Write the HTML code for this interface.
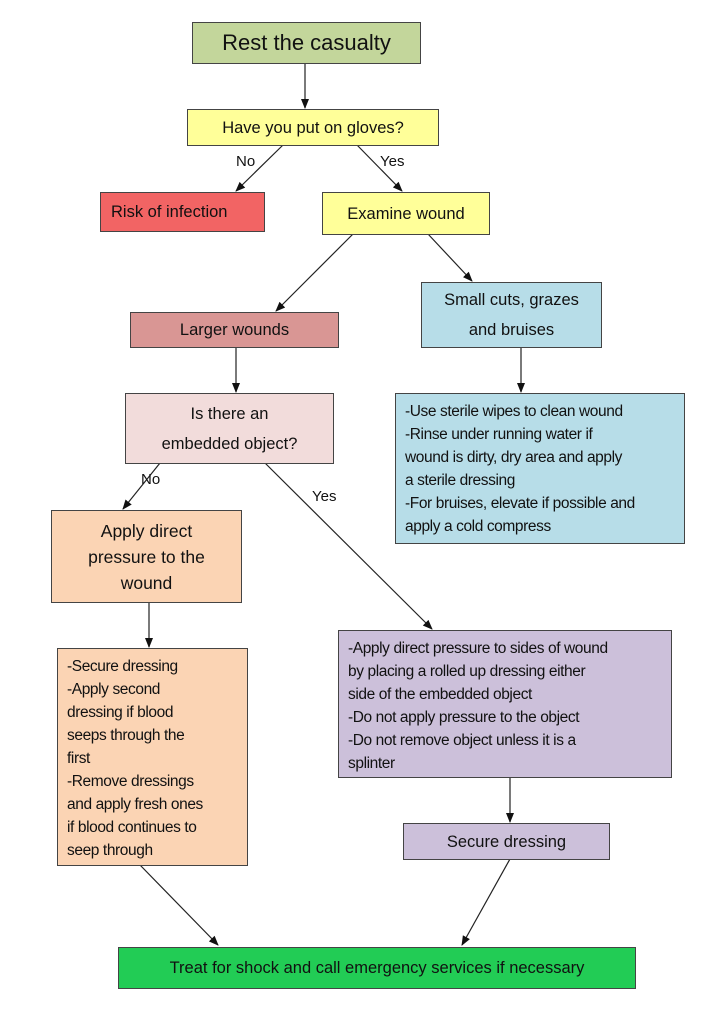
<!DOCTYPE html>
<html><head><meta charset="utf-8"><style>
body{margin:0;width:703px;height:1022px;background:#fff;position:relative;font-family:"Liberation Sans",sans-serif;color:#111;overflow:hidden}
.b{position:absolute;box-sizing:border-box;border:1px solid #444;display:flex;align-items:center;justify-content:center;text-align:center;font-size:16.5px;line-height:26px;white-space:nowrap}
.t{justify-content:flex-start;align-items:flex-start;text-align:left;font-size:15.5px;line-height:23px;padding:6px 0 0 9px;letter-spacing:-0.4px}
.l{position:absolute;font-size:15px}
svg{position:absolute;left:0;top:0}
</style></head><body>
<svg width="703" height="1022"><defs><marker id="a" markerWidth="10" markerHeight="10" refX="9" refY="5" orient="auto" markerUnits="userSpaceOnUse"><path d="M0,1 L10,5 L0,9z" fill="#111"/></marker></defs>
<g stroke="#222" stroke-width="1.2" marker-end="url(#a)">
<line x1="305" y1="63" x2="305" y2="108"/>
<line x1="283" y1="145" x2="236" y2="191"/>
<line x1="357" y1="145" x2="402" y2="191"/>
<line x1="353" y1="234" x2="276" y2="311"/>
<line x1="428" y1="234" x2="472" y2="281"/>
<line x1="236" y1="347" x2="236" y2="392"/>
<line x1="521" y1="347" x2="521" y2="392"/>
<line x1="160" y1="463" x2="123" y2="509"/>
<line x1="265" y1="463" x2="432" y2="629"/>
<line x1="149" y1="602" x2="149" y2="647"/>
<line x1="510" y1="777" x2="510" y2="822"/>
<line x1="140" y1="865" x2="218" y2="945"/>
<line x1="510" y1="859" x2="462" y2="945"/>
</g></svg>
<div class="b" style="left:192px;top:22px;width:229px;height:42px;background:#c3d69b;font-size:22px">Rest the casualty</div>
<div class="b" style="left:187px;top:109px;width:252px;height:37px;background:#ffff99">Have you put on gloves?</div>
<div class="l" style="left:236px;top:153px">No</div>
<div class="l" style="left:380px;top:153px">Yes</div>
<div class="b" style="left:100px;top:192px;width:165px;height:40px;background:#f26464;justify-content:flex-start;padding-left:10px">Risk of infection</div>
<div class="b" style="left:322px;top:192px;width:168px;height:43px;background:#ffff99">Examine wound</div>
<div class="b" style="left:130px;top:312px;width:209px;height:36px;background:#d99694">Larger wounds</div>
<div class="b" style="left:421px;top:282px;width:181px;height:66px;background:#b7dde8;line-height:30px">Small cuts, grazes<br>and bruises</div>
<div class="b" style="left:125px;top:393px;width:209px;height:71px;background:#f2dcdb;line-height:30px">Is there an<br>embedded object?</div>
<div class="b t" style="left:395px;top:393px;width:290px;height:151px;background:#b7dde8">-Use sterile wipes to clean wound<br>-Rinse under running water if<br>wound is dirty, dry area and apply<br>a sterile dressing<br>-For bruises, elevate if possible and<br>apply a cold compress</div>
<div class="l" style="left:141px;top:471px">No</div>
<div class="l" style="left:312px;top:488px">Yes</div>
<div class="b" style="left:51px;top:510px;width:191px;height:93px;background:#fbd4b4;font-size:17.5px">Apply direct<br>pressure to the<br>wound</div>
<div class="b t" style="left:57px;top:648px;width:191px;height:218px;background:#fbd4b4">-Secure dressing<br>-Apply second<br>dressing if blood<br>seeps through the<br>first<br>-Remove dressings<br>and apply fresh ones<br>if blood continues to<br>seep through</div>
<div class="b t" style="left:338px;top:630px;width:334px;height:148px;background:#ccc0da">-Apply direct pressure to sides of wound<br>by placing a rolled up dressing either<br>side of the embedded object<br>-Do not apply pressure to the object<br>-Do not remove object unless it is a<br>splinter</div>
<div class="b" style="left:403px;top:823px;width:207px;height:37px;background:#ccc0da">Secure dressing</div>
<div class="b" style="left:118px;top:947px;width:518px;height:42px;background:#22cc55">Treat for shock and call emergency services if necessary</div>
</body></html>
